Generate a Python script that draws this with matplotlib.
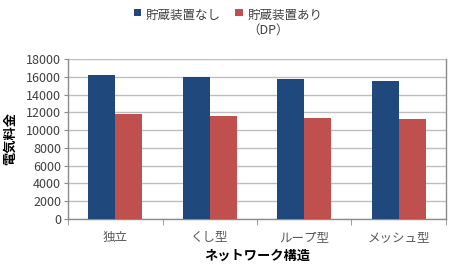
import numpy as np
import matplotlib
matplotlib.use("Agg")
import matplotlib.pyplot as plt

plt.rcParams["font.family"] = ["Noto Sans CJK JP", "DejaVu Sans"]

categories = ["独立", "くし型", "ループ型", "メッシュ型"]
no_storage = [16200, 15970, 15820, 15600]
with_storage = [11780, 11560, 11400, 11220]
series_labels = ["貯蔵装置なし", "貯蔵装置あり\n（DP）"]
yticks = list(range(0, 18001, 2000))

C = {"blue": "#1F497D", "red": "#C0504D", "grid": "#BEBEBE", "axis": "#8C8C8C"}

fig = plt.figure(figsize=(4.54, 2.66), dpi=100)
ax = fig.add_axes([0.150, 0.178, 0.832, 0.599])

x = np.arange(len(categories))
w = 0.286
ax.bar(x - w / 2, no_storage, w, color=C["blue"], label=series_labels[0], zorder=3)
ax.bar(x + w / 2, with_storage, w, color=C["red"], label=series_labels[1], zorder=3)

ax.set_xlim(-0.5, len(categories) - 0.5)
ax.set_ylim(0, 18000)
ax.set_yticks(yticks)
ax.yaxis.grid(True, color=C["grid"], linewidth=1.0, zorder=0)
ax.set_axisbelow(True)

ax.set_xticks(x)
ax.set_xticklabels(categories, fontsize=9, color="#595959")
ax.set_xticks(np.arange(-0.5, len(categories), 1.0), minor=True)
ax.tick_params(axis="x", which="major", length=0, pad=9)
ax.tick_params(axis="x", which="minor", length=4, color=C["axis"], direction="out")
ax.tick_params(axis="y", length=3, color=C["axis"], labelsize=9, labelcolor="#404040", pad=2)

for s in ["left", "right", "bottom"]:
    ax.spines[s].set_color(C["axis"])
    ax.spines[s].set_linewidth(1.0)
ax.spines["top"].set_visible(False)

ax.set_ylabel("電気料金", fontsize=9.5, fontweight="bold")
ax.yaxis.set_label_coords(-0.135, 0.5)
ax.set_xlabel("ネットワーク構造", fontsize=9.5, fontweight="bold")
ax.xaxis.set_label_coords(0.5, -0.19)

leg = ax.legend(loc="upper left", bbox_to_anchor=(0.16, 1.35), ncol=2, frameon=False,
                fontsize=9, handlelength=0.6, handleheight=0.6, handletextpad=0.35,
                columnspacing=1.2, borderaxespad=0)
# align squares with the first line of each label, columns by their top
leg._legend_handle_box.align = "top"
for col in leg._legend_handle_box.get_children():
    col.align = "left"
    for row in col.get_children():
        row.align = "top"
for t in leg.get_texts():
    t.set_color("#404040")

fig.savefig("out.png", dpi=100)
